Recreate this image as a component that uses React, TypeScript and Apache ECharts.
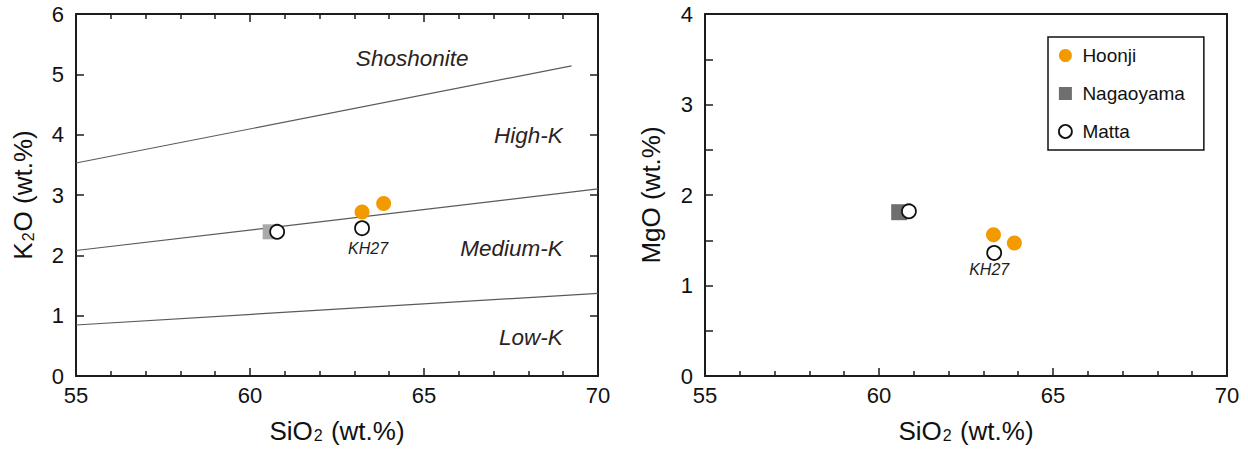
import React, { useEffect, useRef } from "react";
import * as echarts from "echarts";

// ---- data ----
const seriesNames = ["Hoonji", "Nagaoyama", "Matta"];

// K2O vs SiO2 (left)
const hoonjiK2O: number[][] = [[63.22, 2.72], [63.84, 2.86]];
const nagaoyamaK2O: number[][] = [[60.58, 2.39]];
const mattaK2O: number[][] = [[60.78, 2.39], [63.22, 2.45]];

// MgO vs SiO2 (right)
const hoonjiMgO: number[][] = [[63.29, 1.56], [63.89, 1.47]];
const nagaoyamaMgO: number[][] = [[60.58, 1.81]];
const mattaMgO: number[][] = [[60.86, 1.82], [63.31, 1.36]];

const labelledSample = "KH27";

// Peccerillo & Taylor boundaries
const shoshoniteLine: number[][] = [[55, 3.53], [69.24, 5.14]];
const highKLine: number[][] = [[55, 2.08], [70, 3.1]];
const lowKLine: number[][] = [[55, 0.845], [70, 1.37]];

const zoneNames = ["Shoshonite", "High-K", "Medium-K", "Low-K"];
const zoneAnchors: number[][] = [[64.66, 5.26], [69.0, 3.98], [69.0, 2.12], [69.0, 0.63]];

const xTicks = [55, 60, 65, 70];
const k2oTicks = [0, 1, 2, 3, 4, 5, 6];
const mgoTicks = [0, 1, 2, 3, 4];

const FONT = "'Liberation Sans', Arial, Helvetica, sans-serif";
const ORANGE = "#F39A00";
const AX = "#1c1c1c";
const SQUARE_ICON = "path://M0,0L10,0L10,10L0,10Z";

export default function App() {
  const ref = useRef<HTMLDivElement>(null);

  useEffect(() => {
    document.body.style.margin = "0";
    const chart = echarts.init(ref.current!, null, { renderer: "svg" });

    const rich = {
      b: { fontSize: 26, fontFamily: FONT, color: "#111", lineHeight: 26, verticalAlign: "top" },
      s: { fontSize: 16, fontFamily: FONT, color: "#111", lineHeight: 16, verticalAlign: "bottom", padding: [17, 1, 0, 1] },
    };

    const xBase = (gridIndex: number) => ({
      type: "value",
      gridIndex,
      min: xTicks[0],
      max: xTicks[xTicks.length - 1],
      interval: 5,
      splitLine: { show: false },
      axisLine: { show: true, onZero: false, lineStyle: { color: AX, width: 2 } },
    });

    const xBottom = (gridIndex: number) => ({
      ...xBase(gridIndex),
      position: "bottom",
      name: "{b|SiO}{s|2}{b| (wt.%)}",
      nameLocation: "middle",
      nameGap: 40,
      nameTextStyle: { rich },
      axisTick: { show: true, inside: true, length: 8, lineStyle: { color: AX, width: 1.5 } },
      minorTick: { show: true, splitNumber: 5, length: 5, lineStyle: { color: AX, width: 1.5 } },
      axisLabel: { fontSize: 22, fontFamily: FONT, color: "#111", margin: 8 },
    });

    const xTop = (gridIndex: number, ticks: boolean) => ({
      ...xBase(gridIndex),
      position: "top",
      axisTick: { show: ticks, inside: true, length: 8, lineStyle: { color: AX, width: 1.5 } },
      minorTick: { show: ticks, splitNumber: 5, length: 5, lineStyle: { color: AX, width: 1.5 } },
      axisLabel: { show: false },
    });

    const yK2O = {
      type: "value",
      gridIndex: 0,
      min: k2oTicks[0],
      max: k2oTicks[k2oTicks.length - 1],
      interval: 1,
      position: "left",
      name: "{b|K}{s|2}{b|O (wt.%)}",
      nameLocation: "middle",
      nameGap: 40,
      nameRotate: 90,
      nameTextStyle: { rich },
      splitLine: { show: false },
      axisLine: { show: true, onZero: false, lineStyle: { color: AX, width: 2 } },
      axisTick: { show: true, inside: true, length: 8, lineStyle: { color: AX, width: 1.5 } },
      axisLabel: { fontSize: 22, fontFamily: FONT, color: "#111", margin: 12 },
    };
    const yK2ORight = {
      type: "value",
      gridIndex: 0,
      min: k2oTicks[0],
      max: k2oTicks[k2oTicks.length - 1],
      interval: 1,
      position: "right",
      splitLine: { show: false },
      axisLine: { show: true, onZero: false, lineStyle: { color: AX, width: 2 } },
      axisTick: { show: true, inside: true, length: 8, lineStyle: { color: AX, width: 1.5 } },
      axisLabel: { show: false },
    };
    const yMgO = {
      type: "value",
      gridIndex: 1,
      min: mgoTicks[0],
      max: mgoTicks[mgoTicks.length - 1],
      interval: 0.5,
      position: "left",
      name: "{b|MgO (wt.%)}",
      nameLocation: "middle",
      nameGap: 41,
      nameRotate: 90,
      nameTextStyle: { rich },
      splitLine: { show: false },
      axisLine: { show: true, onZero: false, lineStyle: { color: AX, width: 2 } },
      axisTick: { show: true, inside: true, length: 8, lineStyle: { color: AX, width: 1.5 } },
      axisLabel: {
        fontSize: 22,
        fontFamily: FONT,
        color: "#111",
        margin: 12,
        formatter: (v: number) => (Number.isInteger(v) ? String(v) : ""),
      },
    };
    const yMgORight = {
      type: "value",
      gridIndex: 1,
      min: mgoTicks[0],
      max: mgoTicks[mgoTicks.length - 1],
      interval: 0.5,
      position: "right",
      splitLine: { show: false },
      axisLine: { show: true, onZero: false, lineStyle: { color: AX, width: 2 } },
      axisTick: { show: false },
      axisLabel: { show: false },
    };

    const boundary = (data: number[][]) => ({
      type: "line",
      xAxisIndex: 0,
      yAxisIndex: 0,
      data,
      symbol: "none",
      silent: true,
      lineStyle: { color: "#5a5a5a", width: 1.2 },
      z: 1,
    });

    const kh27Label = (offset: number[], distance: number) => ({
      show: true,
      position: "bottom",
      distance,
      offset,
      formatter: labelledSample,
      fontSize: 16,
      fontStyle: "italic",
      fontFamily: FONT,
      color: "#221c1c",
      opacity: 1,
    });

    const mattaData = (arr: number[][], offset: number[], distance: number) =>
      arr.map((v, i) => (i === arr.length - 1 ? { value: v, label: kh27Label(offset, distance) } : { value: v }));

    const option: any = {
      animation: false,
      textStyle: { fontFamily: FONT },
      grid: [
        { left: 76, right: 650, top: 14, bottom: 77 },
        { left: 705, right: 21, top: 14, bottom: 77 },
      ],
      xAxis: [xBottom(0), xTop(0, true), xBottom(1), xTop(1, false)],
      yAxis: [yK2O, yK2ORight, yMgO, yMgORight],
      legend: {
        orient: "vertical",
        left: 1048,
        top: 37,
        padding: [9, 19, 9, 10],
        itemGap: 19,
        itemWidth: 24,
        itemHeight: 13,
        borderColor: "#111",
        borderWidth: 1.5,
        backgroundColor: "#fff",
        textStyle: { fontSize: 19, fontFamily: FONT, color: "#111" },
        data: [
          { name: seriesNames[0], icon: "circle", itemStyle: { color: ORANGE, borderWidth: 0 } },
          { name: seriesNames[1], icon: SQUARE_ICON, itemStyle: { color: "#6f6f6f", borderWidth: 0 } },
          { name: seriesNames[2], icon: "circle", itemStyle: { color: "#fff", borderColor: "#111", borderWidth: 1.8 } },
        ],
        selectedMode: false,
      },
      series: [
        boundary(shoshoniteLine),
        boundary(highKLine),
        boundary(lowKLine),
        {
          type: "scatter",
          xAxisIndex: 0,
          yAxisIndex: 0,
          silent: true,
          symbolSize: 1,
          itemStyle: { color: "rgba(0,0,0,0)", opacity: 1 },
          data: zoneAnchors.map((v, i) => ({
            value: v,
            name: zoneNames[i],
            label: {
              show: true,
              position: i === 0 ? "inside" : "left",
              distance: 0,
              formatter: zoneNames[i],
              fontSize: 22.5,
              fontStyle: "italic",
              fontFamily: FONT,
              color: "#2b2222",
              opacity: 1,
            },
          })),
          z: 2,
        },
        {
          name: seriesNames[1],
          type: "scatter",
          xAxisIndex: 0,
          yAxisIndex: 0,
          symbol: "rect",
          symbolSize: 15,
          itemStyle: { color: "#a9a9a9", opacity: 1 },
          data: nagaoyamaK2O,
          z: 3,
        },
        {
          name: seriesNames[0],
          type: "scatter",
          xAxisIndex: 0,
          yAxisIndex: 0,
          symbol: "circle",
          symbolSize: 15,
          itemStyle: { color: ORANGE, opacity: 1 },
          data: hoonjiK2O,
          z: 4,
        },
        {
          name: seriesNames[2],
          type: "scatter",
          xAxisIndex: 0,
          yAxisIndex: 0,
          symbol: "circle",
          symbolSize: 14,
          itemStyle: { color: "#fff", borderColor: "#111", borderWidth: 1.8, opacity: 1 },
          data: mattaData(mattaK2O, [6, 0], 4),
          z: 5,
        },
        {
          name: seriesNames[1],
          type: "scatter",
          xAxisIndex: 2,
          yAxisIndex: 2,
          symbol: "rect",
          symbolSize: 16,
          itemStyle: { color: "#6f6f6f", opacity: 1 },
          data: nagaoyamaMgO,
          z: 3,
        },
        {
          name: seriesNames[0],
          type: "scatter",
          xAxisIndex: 2,
          yAxisIndex: 2,
          symbol: "circle",
          symbolSize: 15,
          itemStyle: { color: ORANGE, opacity: 1 },
          data: hoonjiMgO,
          z: 4,
        },
        {
          name: seriesNames[2],
          type: "scatter",
          xAxisIndex: 2,
          yAxisIndex: 2,
          symbol: "circle",
          symbolSize: 14,
          itemStyle: { color: "#fff", borderColor: "#111", borderWidth: 1.8, opacity: 1 },
          data: mattaData(mattaMgO, [-5, 0], 1),
          z: 5,
        },
      ],
    };

    chart.setOption(option);
    return () => chart.dispose();
  }, []);

  return <div ref={ref} style={{ width: 1248, height: 453 }} />;
}
